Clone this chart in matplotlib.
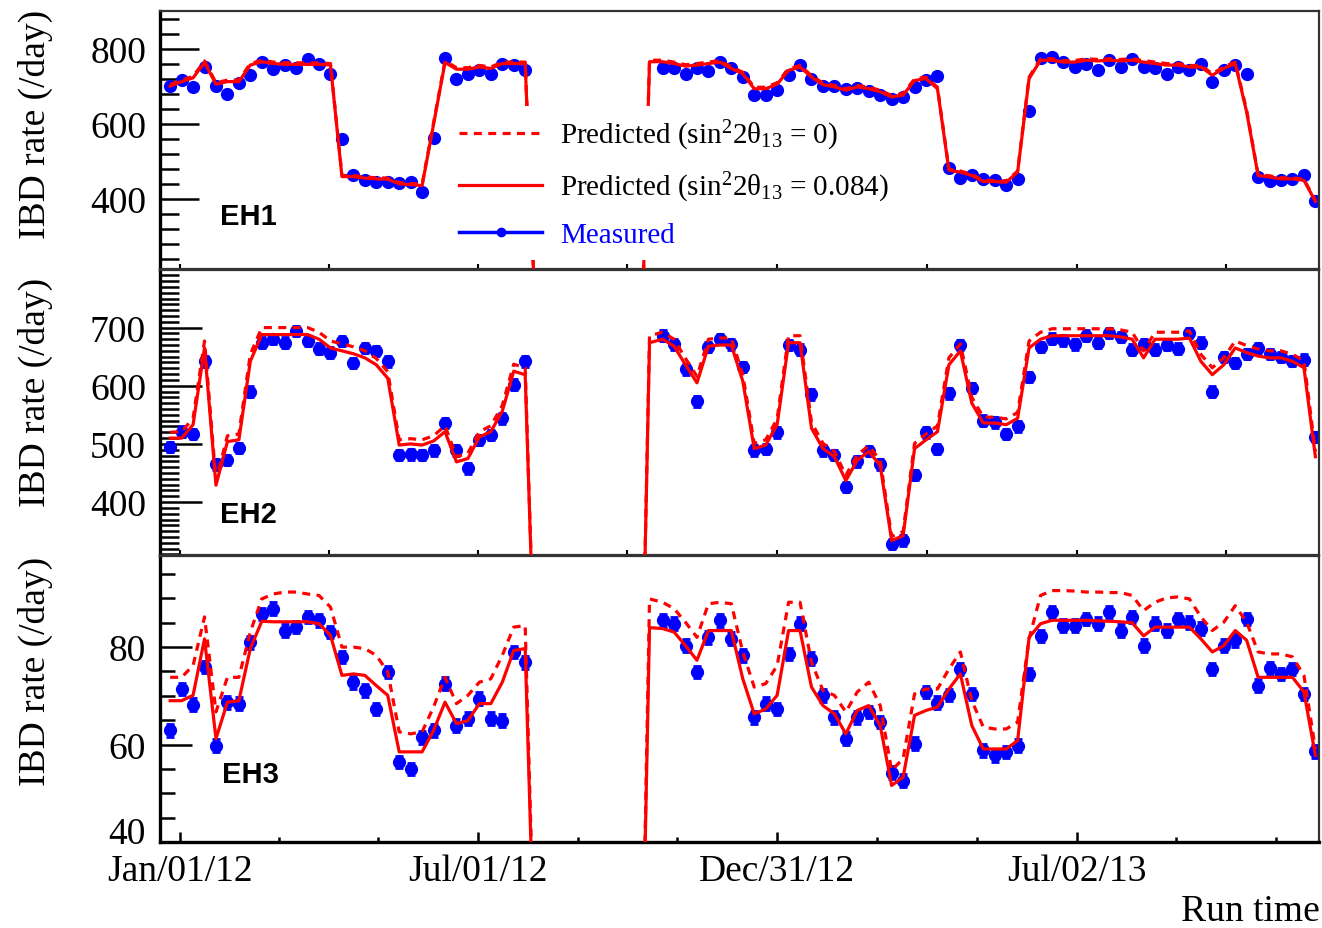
import matplotlib
matplotlib.use("Agg")
import numpy as np
import pandas as pd
import matplotlib.pyplot as plt
import matplotlib.dates as mdates
import matplotlib.transforms as mtransforms
from matplotlib.lines import Line2D
from matplotlib.ticker import MultipleLocator

plt.rcParams["font.family"] = ["Liberation Serif", "DejaVu Serif"]
plt.rcParams["mathtext.fontset"] = "custom"
plt.rcParams["mathtext.rm"] = "Liberation Serif"
plt.rcParams["mathtext.it"] = "Liberation Serif:italic"

# weekly bins of the two run periods
seg1_dates = pd.date_range("2011-12-26", periods=32, freq="7D").values
seg2_dates = pd.date_range("2012-10-22", periods=58, freq="7D").values
gap_dates = pd.to_datetime(["2012-08-06", "2012-10-09"]).values
pred_first = pd.to_datetime(["2012-10-14"]).values
gap_rate = [0, 0]

x_tick_dates = ["2012-01-01", "2012-07-01", "2012-12-31", "2013-07-02"]
x_tick_labels = ["Jan/01/12", "Jul/01/12", "Dec/31/12", "Jul/02/13"]

# ---- EH1 ----
eh1_meas_1 = [700, 715, 698, 752, 700, 680, 707, 729, 763, 745, 756, 747, 771, 760, 733, 560,
              462, 451, 445, 445, 442, 445, 418, 562, 775, 720, 731, 742, 733, 760, 756, 742]
eh1_meas_2 = [747, 747, 731, 747, 740, 764, 747, 724, 676, 676, 689, 729, 756, 720, 700, 700,
              691, 695, 686, 676, 665, 671, 698, 715, 727, 482, 455, 462, 453, 449, 437, 453,
              633, 775, 778, 763, 751, 760, 742, 769, 751, 773, 751, 747, 733, 751, 742, 760,
              711, 742, 756, 733, 458, 446, 449, 453, 462, 393]
eh1_fit_1 = [700, 712, 722, 763, 705, 712, 712, 756, 765, 760, 758, 758, 758, 758, 756, 459,
             459, 455, 453, 452, 440, 438, 435, 598, 763, 745, 745, 751, 747, 760, 760, 760]
eh1_fit_2 = [765, 765, 760, 753, 756, 760, 764, 747, 733, 693, 693, 705, 742, 751, 724, 704,
             698, 689, 698, 693, 685, 671, 676, 715, 720, 693, 476, 471, 462, 446, 446, 444,
             471, 720, 769, 769, 764, 764, 769, 767, 769, 767, 769, 764, 760, 756, 756, 751,
             751, 729, 747, 760, 631, 462, 458, 453, 453, 449, 393]
eh1_null_1 = [704, 716, 726, 767, 709, 716, 716, 760, 769, 764, 762, 762, 762, 762, 760, 462,
              462, 458, 456, 455, 443, 441, 438, 602, 767, 749, 749, 755, 751, 764, 764, 764]
eh1_null_2 = [769, 769, 764, 757, 760, 764, 768, 751, 737, 697, 697, 709, 746, 755, 728, 708,
              702, 693, 702, 697, 689, 675, 680, 719, 724, 697, 479, 474, 465, 449, 449, 447,
              474, 724, 773, 773, 768, 768, 773, 771, 773, 771, 773, 768, 764, 760, 760, 755,
              755, 733, 751, 764, 635, 465, 461, 456, 456, 452, 396]
eh1_err = 4

# ---- EH2 ----
eh2_meas_1 = [495, 521, 517, 642, 465, 472, 493, 590, 674, 680, 674, 694, 677, 664, 657, 677,
              639, 665, 660, 642, 481, 482, 481, 489, 536, 489, 458, 507, 515, 544, 602, 642]
eh2_meas_2 = [686, 671, 628, 573, 667, 680, 671, 632, 489, 491, 520, 670, 662, 585, 489, 481,
              426, 470, 488, 465, 328, 334, 447, 520, 491, 587, 670, 596, 540, 537, 517, 530,
              615, 667, 681, 678, 671, 686, 674, 691, 684, 662, 672, 662, 670, 664, 691, 674,
              590, 649, 639, 655, 665, 655, 649, 643, 645, 512]
eh2_fit_1 = [510, 510, 533, 665, 429, 504, 507, 642, 688, 688, 688, 688, 688, 680, 665, 660,
             655, 648, 636, 613, 498, 500, 498, 505, 521, 469, 475, 512, 521, 556, 625, 619]
eh2_fit_2 = [674, 680, 668, 636, 605, 668, 670, 670, 608, 492, 498, 533, 674, 674, 527, 492,
             478, 437, 472, 487, 463, 334, 342, 492, 507, 521, 636, 660, 570, 536, 536, 533,
             544, 665, 680, 686, 686, 686, 686, 686, 686, 684, 680, 648, 680, 680, 680, 682,
             642, 619, 636, 665, 657, 651, 648, 648, 642, 631, 478]
eh2_null_1 = [520, 521, 544, 677, 437, 514, 517, 654, 700, 700, 700, 700, 700, 692, 677, 672,
              667, 660, 647, 624, 507, 509, 507, 514, 531, 478, 484, 521, 531, 566, 637, 631]
eh2_null_2 = [686, 692, 680, 647, 616, 680, 682, 682, 619, 501, 507, 543, 686, 686, 537, 501,
              487, 446, 481, 497, 472, 341, 349, 501, 517, 531, 648, 672, 580, 546, 546, 543,
              554, 677, 692, 698, 698, 698, 698, 698, 698, 696, 692, 660, 692, 692, 692, 694,
              654, 631, 648, 677, 669, 663, 660, 660, 654, 643, 487]
eh2_err = 9

# ---- EH3 ----
eh3_meas_1 = [62.9, 71.4, 68.2, 75.9, 59.8, 68.7, 68.4, 81.0, 86.8, 87.9, 83.4, 84.1, 86.2, 85.5,
              83.1, 78.0, 72.8, 71.1, 67.3, 74.9, 56.4, 55.0, 61.5, 62.9, 72.5, 63.9, 65.3, 69.4,
              65.3, 64.9, 79.0, 76.9]
eh3_meas_2 = [85.5, 84.8, 80.3, 74.9, 82.0, 85.5, 81.7, 78.3, 65.6, 68.4, 67.3, 78.6, 84.8, 77.6,
              70.1, 65.6, 61.2, 65.6, 66.7, 64.6, 54.2, 52.6, 60.2, 70.8, 68.6, 70.2, 75.5, 70.4,
              58.8, 57.8, 58.5, 59.8, 74.5, 82.3, 87.2, 84.4, 84.4, 85.8, 84.8, 87.2, 83.4, 86.2,
              80.3, 84.8, 83.4, 85.8, 85.0, 83.8, 75.5, 80.3, 81.4, 85.8, 72.1, 75.7, 74.5, 75.5,
              70.4, 58.6]
eh3_fit_1 = [69.0, 69.0, 70.1, 81.7, 61.2, 68.7, 69.0, 79.7, 85.3, 85.2, 85.2, 85.2, 85.2, 84.8,
             82.4, 74.2, 74.5, 74.2, 72.1, 70.1, 58.5, 58.5, 58.5, 62.9, 68.7, 64.3, 64.9, 68.4,
             68.4, 72.8, 79.3, 79.7]
eh3_fit_2 = [84.0, 83.8, 83.1, 80.3, 77.3, 83.4, 83.4, 83.4, 73.5, 66.3, 67.3, 70.1, 83.4, 83.4,
             71.8, 68.0, 66.3, 62.2, 67.0, 68.0, 63.9, 51.6, 53.3, 66.0, 67.0, 67.7, 71.4, 74.5,
             63.9, 59.1, 59.1, 59.1, 60.8, 82.0, 84.8, 85.5, 85.5, 85.5, 85.5, 85.4, 85.3, 85.2,
             85.0, 82.3, 84.1, 84.1, 84.1, 84.1, 81.7, 79.0, 80.3, 83.4, 81.4, 73.8, 73.8, 73.8,
             73.8, 70.8, 57.8]
eh3_null_1 = [73.8, 73.8, 76.2, 86.2, 66.7, 73.8, 73.8, 83.1, 89.9, 90.9, 91.3, 91.3, 90.9, 90.6,
              88.2, 80.0, 80.0, 79.7, 78.3, 74.9, 62.6, 62.2, 62.6, 67.7, 73.8, 68.4, 70.1, 72.8,
              73.5, 78.3, 84.1, 84.4]
eh3_null_2 = [89.9, 89.2, 87.9, 85.1, 82.0, 88.9, 89.2, 88.9, 79.0, 71.8, 72.5, 76.2, 89.2, 89.2,
              76.9, 71.1, 70.1, 66.7, 70.8, 72.8, 68.0, 54.7, 57.1, 70.4, 71.4, 71.4, 75.5, 79.0,
              69.0, 63.6, 63.2, 63.2, 64.6, 81.7, 90.6, 91.6, 91.6, 91.5, 91.3, 91.3, 91.2, 91.2,
              90.6, 87.5, 89.2, 90.1, 90.3, 89.9, 86.2, 83.4, 85.1, 88.5, 85.1, 79.0, 78.6, 78.6,
              78.0, 74.2, 59.1]
eh3_err = 1.3

meas_x = np.concatenate([seg1_dates, seg2_dates])
pred_x = np.concatenate([seg1_dates, gap_dates, pred_first, seg2_dates])

W, H = 1322, 929
fig = plt.figure(figsize=(W / 100, H / 100), dpi=100)

def add_panel(top, bottom):
    return fig.add_axes([160 / W, 1 - bottom / H, (1319 - 160) / W, (bottom - top) / H])

ax1 = add_panel(12, 270)
ax2 = add_panel(271, 556)
ax3 = add_panel(557, 843)

dash = (0, (2.5, 2.0))

def draw(ax, m1, m2, err, f1, f2, n1, n2):
    ax.errorbar(meas_x, m1 + m2, yerr=err, fmt="o", color="blue", ms=8.5,
                elinewidth=2, capsize=3, capthick=2, zorder=2)
    ax.plot(pred_x, n1 + gap_rate + n2, color="red", lw=2.3, ls=dash, zorder=3)
    ax.plot(pred_x, f1 + gap_rate + f2, color="red", lw=2.3, zorder=4)

draw(ax1, eh1_meas_1, eh1_meas_2, eh1_err, eh1_fit_1, eh1_fit_2, eh1_null_1, eh1_null_2)
draw(ax2, eh2_meas_1, eh2_meas_2, eh2_err, eh2_fit_1, eh2_fit_2, eh2_null_1, eh2_null_2)
draw(ax3, eh3_meas_1, eh3_meas_2, eh3_err, eh3_fit_1, eh3_fit_2, eh3_null_1, eh3_null_2)

# x axis
xlim = (mdates.date2num(np.datetime64("2011-12-19T19:00")),
        mdates.date2num(np.datetime64("2013-11-27T05:00")))
major = mdates.date2num(pd.to_datetime(x_tick_dates).values)
thirds = []
quarters = []
for a, b in zip(major[:-1], major[1:]):
    thirds += [a + (b - a) / 3, a + 2 * (b - a) / 3]
    quarters += [a, (a + b) / 2]
thirds += [major[-1] + 61, major[-1] + 122]
quarters += [major[-1], major[-1] + 91.5]

for ax in (ax1, ax2, ax3):
    ax.set_xlim(xlim)
    for s in ax.spines.values():
        s.set_linewidth(1.6)
        s.set_color("#333333")
    ax.spines["left"].set_linewidth(2.4)
    ax.spines["left"].set_color("black")

for ax in (ax1, ax2):
    ax.set_xticks(quarters)
    ax.set_xticks([], minor=True)
    ax.tick_params(axis="x", which="major", direction="in", length=3.5, width=1.5,
                   labelbottom=False)

ax3.set_xticks(major, x_tick_labels)
ax3.set_xticks(thirds, minor=True)
ax3.tick_params(axis="x", which="major", direction="in", length=7, width=1.8,
                labelsize=27, pad=8)
ax3.tick_params(axis="x", which="minor", direction="in", length=3.6, width=1.8)
ax3.spines["bottom"].set_linewidth(2.4)
ax3.spines["bottom"].set_color("black")

# y axes
ax1.set_ylim(213, 900)
ax1.yaxis.set_major_locator(MultipleLocator(200))
ax1.yaxis.set_minor_locator(MultipleLocator(40))
ax2.set_ylim(309, 799)
ax2.yaxis.set_major_locator(MultipleLocator(100))
ax2.yaxis.set_minor_locator(MultipleLocator(10))
ax3.set_ylim(40, 98.7)
ax3.set_yticks([40, 60, 80])
ax3.yaxis.set_minor_locator(MultipleLocator(5))
for ax, ml, mn in ((ax1, 28, 14), (ax2, 30, 14), (ax3, 23, 11)):
    ax.tick_params(axis="y", which="major", direction="in", length=ml, width=1.8,
                   labelsize=27, pad=10)
    ax.tick_params(axis="y", which="minor", direction="in", length=mn, width=1.8)

# lift the "40" label so it clears the date labels
lab40 = ax3.yaxis.get_major_ticks()[0].label1
lab40.set_transform(lab40.get_transform() +
                    mtransforms.ScaledTranslation(0, 9 / 72, fig.dpi_scale_trans))

# labels
for top in (10, 278, 557):
    fig.text(35 / W, 1 - top / H, "IBD rate (/day)", rotation=90, va="top", ha="center",
             fontsize=27)
for name, (x, y) in (("EH1", (248, 217)), ("EH2", (248, 515)), ("EH3", (250, 775))):
    fig.text(x / W, 1 - y / H, name, ha="center", va="center", fontsize=21,
             fontweight="bold", family="Liberation Sans")
fig.text(1320 / W, 1 - 912 / H, "Run time", ha="right", va="center", fontsize=27)

# legend
handles = [Line2D([], [], color="red", lw=2.3, ls=dash),
           Line2D([], [], color="red", lw=2.3),
           Line2D([], [], color="blue", lw=2.5, marker="o", ms=6)]
labels = [r"Predicted (sin$^{2}$2θ$_{13}$ = 0)",
          r"Predicted (sin$^{2}$2θ$_{13}$ = 0.084)",
          "Measured"]
leg = ax1.legend(handles, labels, loc="upper left", bbox_to_anchor=(0.248, 0.63),
                 fontsize=21, frameon=True, facecolor="white", edgecolor="none",
                 framealpha=1, fancybox=False, handlelength=2.85, handletextpad=0.6,
                 labelspacing=0.6, borderpad=0.4, borderaxespad=0)
leg.get_texts()[2].set_color("blue")

fig.savefig("out.png", dpi=100)
